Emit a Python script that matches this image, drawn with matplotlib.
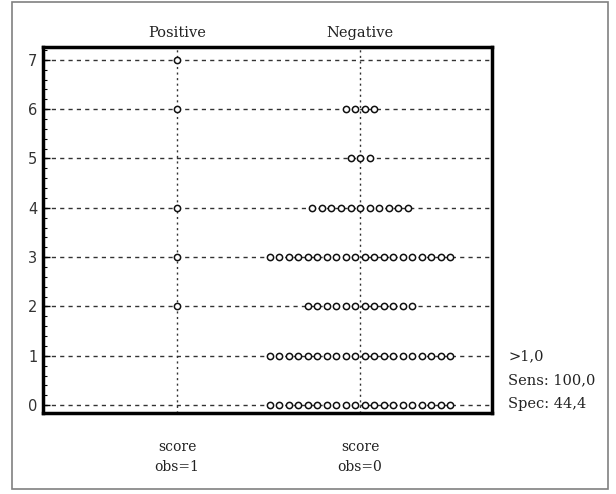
import matplotlib
matplotlib.use("Agg")
import matplotlib.pyplot as plt
import numpy as np
from matplotlib.patches import Rectangle
from matplotlib.ticker import MultipleLocator

# dot plot data: score value -> number of cases
groups = ["Positive", "Negative"]
bottom_labels = ["score\nobs=1", "score\nobs=0"]
pos_scores = [2, 3, 4, 6, 7]
pos_counts = [1, 1, 1, 1, 1]
neg_scores = [0, 1, 2, 3, 4, 5, 6]
neg_counts = [20, 20, 12, 20, 11, 3, 4]
criterion = ">1,0"
sens = "Sens: 100,0"
spec = "Spec: 44,4"

spacing = 0.052
serif = "DejaVu Serif"

fig = plt.figure(figsize=(6.16, 4.94), dpi=100)
fig.patches.append(Rectangle((12 / 616, 5 / 494), 596 / 616, 487 / 494,
                             transform=fig.transFigure, fill=False,
                             edgecolor="#808080", linewidth=1.2))

ax = fig.add_axes([43 / 616, 81 / 494, 449 / 616, 366 / 494])
ax.set_xlim(-0.732, 1.721)
ax.set_ylim(-0.16, 7.26)

# grid
for yv in range(0, 8):
    ax.axhline(yv, color="#333333", lw=1.0, ls=(0, (3, 3)), zorder=1)
for xc in range(len(groups)):
    ax.axvline(xc, color="#333333", lw=1.0, ls=(0, (1.5, 2.5)), zorder=1)

def draw_dots(xc, scores, counts):
    for s, n in zip(scores, counts):
        offs = (np.arange(n) - (n - 1) / 2) * spacing
        ax.plot(xc + offs, [s] * n, ls="none", marker="o", ms=4.5,
                mfc="white", mec="#111111", mew=1.1, zorder=3)

draw_dots(0, pos_scores, pos_counts)
draw_dots(1, neg_scores, neg_counts)

for sp in ax.spines.values():
    sp.set_linewidth(2.5)
    sp.set_color("black")

ax.set_xticks([])
ax.yaxis.set_major_locator(MultipleLocator(1))
ax.yaxis.set_minor_locator(MultipleLocator(0.2))
ax.tick_params(axis="y", which="major", direction="in", length=5, width=1,
               labelsize=10.5, pad=4, colors="black")
ax.tick_params(axis="y", which="minor", direction="in", length=3, width=0.8)
for lab in ax.get_yticklabels():
    lab.set_color("#333333")

for i, g in enumerate(groups):
    ax.text(i, 1.018, g, transform=ax.get_xaxis_transform(), ha="center",
            va="bottom", fontsize=10.5, family=serif, color="#222222")
    ax.text(i, -0.075, bottom_labels[i], transform=ax.get_xaxis_transform(),
            ha="center", va="top", fontsize=10, family=serif,
            color="#222222", linespacing=1.5)

fig.text(508 / 616, 1 - 356 / 494, criterion, ha="left", va="center",
         fontsize=10.5, family=serif, color="#222222")
fig.text(508 / 616, 1 - 380 / 494, sens, ha="left", va="center",
         fontsize=10.5, family=serif, color="#222222")
fig.text(508 / 616, 1 - 404 / 494, spec, ha="left", va="center",
         fontsize=10.5, family=serif, color="#222222")

fig.savefig("out.png", dpi=100)
